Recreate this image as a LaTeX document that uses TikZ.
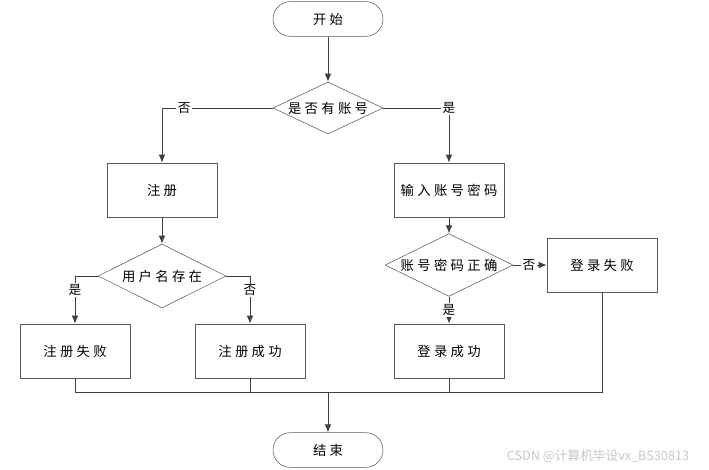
\documentclass[tikz,border=0pt]{standalone}
\usepackage{fontspec}
\setmainfont{Noto Sans CJK SC}[LetterSpace = 25]
\newfontfamily\wmfont{Noto Sans CJK SC}
\usetikzlibrary{shapes.geometric, arrows.meta, shadows}

\begin{document}
\begin{tikzpicture}[> = {Latex[length = 6pt, width = 5pt]}, x = 0.75pt, y = -0.75pt,
	box/.style = {draw = black!65, fill = white, minimum width = 82.5pt, minimum height = 40.5pt,
		drop shadow = {shadow xshift = 1pt, shadow yshift = -1pt, fill = black!20},
		font = \fontsize{10}{12}\selectfont},
	term/.style = {draw = black!65, fill = white, rounded corners = 13pt, minimum width = 82.5pt,
		minimum height = 26pt, font = \fontsize{10}{12}\selectfont},
	decision/.style = {diamond, draw = black!65, fill = white, inner sep = 0pt, shape aspect = 2.1,
		font = \fontsize{10}{12}\selectfont},
	answer/.style = {fill = white, inner sep = 1pt, font = \fontsize{9.5}{11}\selectfont},
	flow/.style = {draw = black!75, line width = 0.75pt}]

	\useasboundingbox (0, 0) rectangle (709, 469);

	% Nodes

	\node [term] (start) at (328, 19) {开始};
	\node [decision, minimum width = 82.5pt, minimum height = 39pt] (hasacc) at (328, 108) {是否有账号};

	\node [box] (reg) at (162, 190) {注册};
	\node [box] (input) at (449, 190) {输入账号密码};

	\node [decision, minimum width = 96pt, minimum height = 48pt] (userex) at (162, 276) {用户名存在};
	\node [decision, minimum width = 96pt, minimum height = 47pt] (pwdok) at (449, 265) {账号密码正确};
	\node [box] (loginfail) at (602, 265) {登录失败};

	\node [box] (regfail) at (75, 351) {注册失败};
	\node [box] (regok) at (250, 351) {注册成功};
	\node [box] (loginok) at (449, 351) {登录成功};

	\coordinate (merge) at (328, 392);
	\node [term] (end) at (328, 450) {结束};

	% Connectors

	\draw [flow, ->] (start) -- (hasacc);
	\draw [flow, ->] (hasacc.west) -| (reg.north) node [answer, pos = 0.4] {否};
	\draw [flow, ->] (hasacc.east) -| (input.north) node [answer, pos = 0.5] {是};

	\draw [flow, ->] (reg) -- (userex);
	\draw [flow, ->] (userex.west) -| (regfail.north) node [answer, pos = 0.65] {是};
	\draw [flow, ->] (userex.east) -| (regok.north) node [answer, pos = 0.65] {否};

	\draw [flow, ->] (input) -- (pwdok);
	\draw [flow, ->] (pwdok.east) -- (loginfail.west) node [answer, pos = 0.47] {否};
	\draw [flow, ->] (pwdok.south) -- (loginok.north) node [answer, pos = 0.48] {是};

	% Merge to end

	\draw [flow] (regfail.south) |- (merge);
	\draw [flow] (regok.south) |- (merge);
	\draw [flow] (loginok.south) |- (merge);
	\draw [flow] (loginfail.south) |- (merge);
	\draw [flow, ->] (merge) -- (end);

	% Watermark

	\node [text = black!22, font = \wmfont\fontsize{9.5}{11}\selectfont] (mark) at (598, 456) {CSDN @计算机毕设vx\_BS30813};

\end{tikzpicture}
\end{document}
